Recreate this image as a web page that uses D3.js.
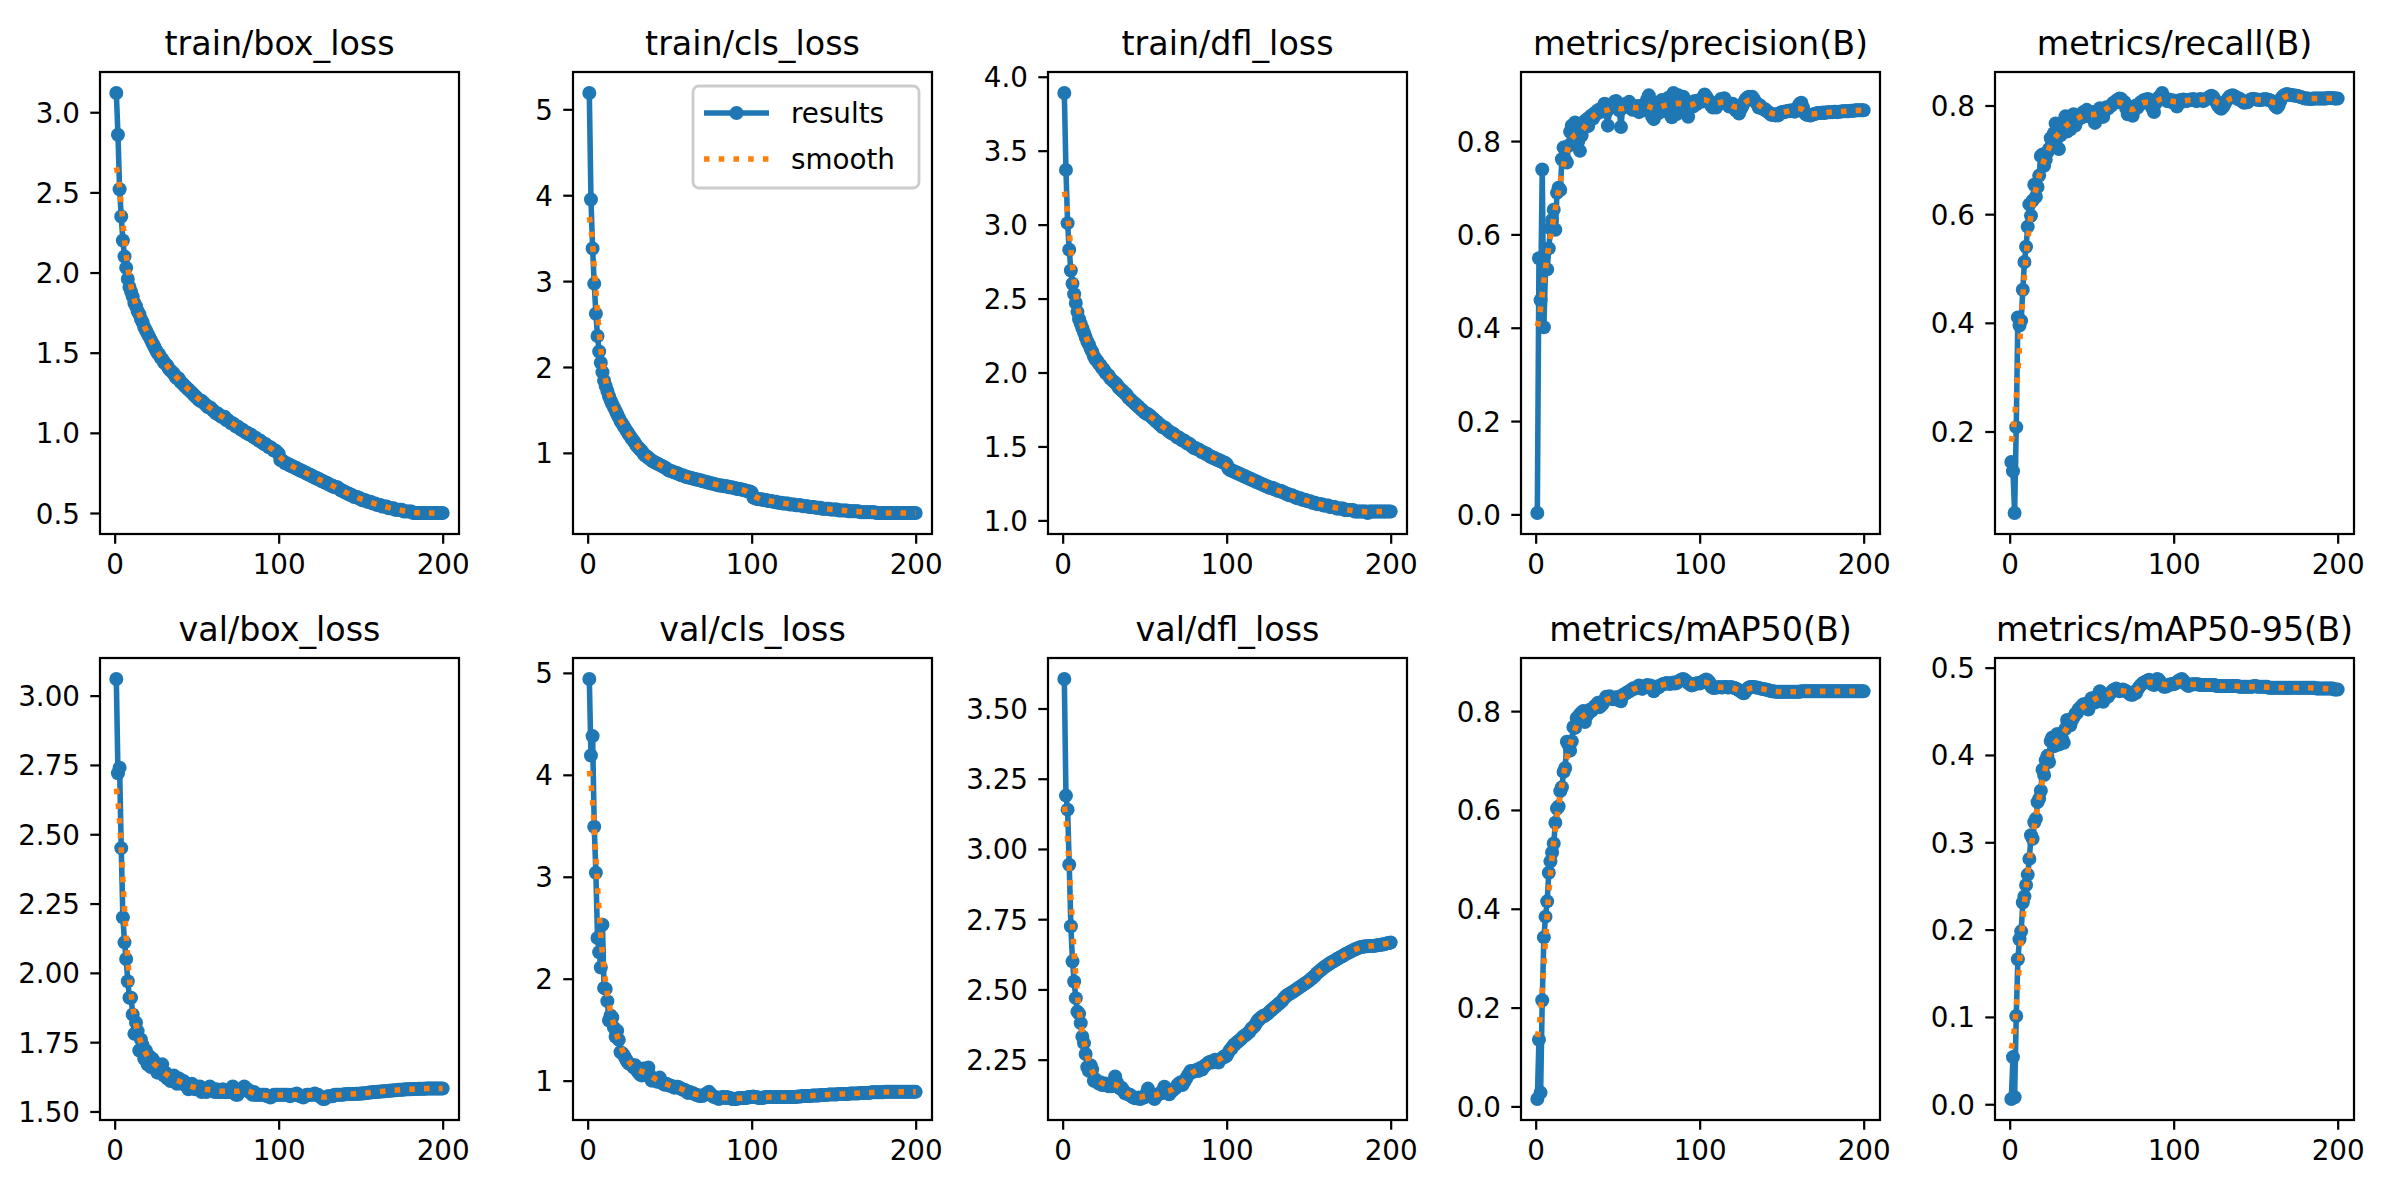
<!DOCTYPE html>
<html>
<head>
<meta charset="utf-8">
<script src="https://cdn.jsdelivr.net/npm/d3@7"></script>
<style>
  body { margin: 0; background: #fff; }
  svg { display: block; font-family: "DejaVu Sans", sans-serif; }
</style>
</head>
<body>
<div class="results-chart"></div>
<script>
const titles = ["train/box_loss", "train/cls_loss", "train/dfl_loss", "metrics/precision(B)", "metrics/recall(B)",
  "val/box_loss", "val/cls_loss", "val/dfl_loss", "metrics/mAP50(B)", "metrics/mAP50-95(B)"];

const epochs = d3.range(1, 201);

const trainBox = [
  3.12, 2.86, 2.52, 2.35, 2.20, 2.10, 2.03, 1.96, 1.91, 1.88,
  1.85, 1.81, 1.79, 1.76, 1.74, 1.71, 1.69, 1.66, 1.64, 1.62,
  1.60, 1.58, 1.56, 1.54, 1.52, 1.50, 1.49, 1.47, 1.46, 1.44,
  1.43, 1.42, 1.40, 1.39, 1.38, 1.37, 1.35, 1.34, 1.34, 1.32,
  1.31, 1.30, 1.29, 1.28, 1.27, 1.26, 1.25, 1.24, 1.23, 1.22,
  1.21, 1.20, 1.20, 1.19, 1.18, 1.17, 1.16, 1.16, 1.15, 1.14,
  1.13, 1.12, 1.12, 1.11, 1.10, 1.10, 1.10, 1.08, 1.08, 1.07,
  1.06, 1.06, 1.05, 1.04, 1.04, 1.03, 1.02, 1.02, 1.01, 1.00,
  1.00, 0.99, 0.99, 0.98, 0.97, 0.97, 0.96, 0.95, 0.95, 0.94,
  0.93, 0.93, 0.92, 0.91, 0.91, 0.90, 0.89, 0.89, 0.88, 0.87,
  0.83, 0.83, 0.82, 0.81, 0.81, 0.80, 0.80, 0.79, 0.79, 0.78,
  0.78, 0.77, 0.77, 0.76, 0.76, 0.75, 0.75, 0.74, 0.74, 0.73,
  0.73, 0.72, 0.72, 0.71, 0.71, 0.70, 0.70, 0.69, 0.69, 0.68,
  0.68, 0.67, 0.67, 0.66, 0.66, 0.66, 0.65, 0.64, 0.64, 0.63,
  0.63, 0.62, 0.62, 0.61, 0.61, 0.60, 0.60, 0.60, 0.59, 0.59,
  0.58, 0.58, 0.58, 0.57, 0.57, 0.57, 0.56, 0.56, 0.56, 0.55,
  0.55, 0.55, 0.54, 0.54, 0.54, 0.54, 0.53, 0.53, 0.53, 0.53,
  0.52, 0.52, 0.52, 0.52, 0.52, 0.51, 0.51, 0.51, 0.51, 0.51,
  0.51, 0.50, 0.50, 0.50, 0.50, 0.50, 0.50, 0.50, 0.50, 0.50,
  0.50, 0.50, 0.50, 0.50, 0.50, 0.50, 0.50, 0.50, 0.50, 0.50
];

const trainCls = [
  5.19, 3.95, 3.38, 2.97, 2.62, 2.36, 2.18, 2.05, 1.94, 1.84,
  1.78, 1.72, 1.66, 1.61, 1.57, 1.53, 1.49, 1.45, 1.41, 1.37,
  1.34, 1.31, 1.28, 1.25, 1.22, 1.19, 1.16, 1.14, 1.11, 1.08,
  1.06, 1.04, 1.02, 0.99, 0.97, 0.96, 0.94, 0.93, 0.91, 0.90,
  0.89, 0.88, 0.87, 0.86, 0.85, 0.84, 0.83, 0.82, 0.80, 0.79,
  0.79, 0.78, 0.77, 0.77, 0.76, 0.75, 0.74, 0.74, 0.73, 0.72,
  0.72, 0.71, 0.71, 0.70, 0.70, 0.69, 0.69, 0.68, 0.68, 0.67,
  0.67, 0.66, 0.66, 0.65, 0.65, 0.64, 0.64, 0.63, 0.63, 0.62,
  0.62, 0.62, 0.61, 0.61, 0.61, 0.60, 0.60, 0.60, 0.59, 0.59,
  0.58, 0.58, 0.58, 0.57, 0.57, 0.56, 0.56, 0.55, 0.55, 0.54,
  0.48, 0.47, 0.47, 0.46, 0.46, 0.46, 0.45, 0.45, 0.45, 0.44,
  0.44, 0.44, 0.43, 0.43, 0.43, 0.42, 0.42, 0.42, 0.41, 0.41,
  0.41, 0.41, 0.40, 0.40, 0.40, 0.40, 0.39, 0.39, 0.39, 0.39,
  0.38, 0.38, 0.38, 0.38, 0.37, 0.37, 0.37, 0.37, 0.36, 0.36,
  0.36, 0.36, 0.35, 0.35, 0.35, 0.35, 0.35, 0.34, 0.34, 0.34,
  0.34, 0.34, 0.33, 0.33, 0.33, 0.33, 0.33, 0.33, 0.32, 0.32,
  0.32, 0.32, 0.32, 0.32, 0.32, 0.31, 0.31, 0.31, 0.31, 0.31,
  0.31, 0.31, 0.31, 0.31, 0.31, 0.30, 0.30, 0.30, 0.30, 0.30,
  0.30, 0.30, 0.30, 0.30, 0.30, 0.30, 0.30, 0.30, 0.30, 0.30,
  0.30, 0.30, 0.30, 0.30, 0.30, 0.30, 0.30, 0.30, 0.30, 0.30
];

const trainDfl = [
  3.89, 3.37, 3.01, 2.83, 2.69, 2.60, 2.53, 2.47, 2.41, 2.36,
  2.33, 2.30, 2.27, 2.24, 2.21, 2.19, 2.16, 2.14, 2.11, 2.09,
  2.08, 2.06, 2.05, 2.03, 2.02, 2.00, 1.99, 1.98, 1.96, 1.95,
  1.94, 1.93, 1.92, 1.90, 1.89, 1.88, 1.87, 1.86, 1.85, 1.83,
  1.82, 1.81, 1.80, 1.79, 1.78, 1.77, 1.76, 1.75, 1.74, 1.73,
  1.72, 1.72, 1.71, 1.70, 1.69, 1.68, 1.67, 1.66, 1.65, 1.64,
  1.63, 1.63, 1.62, 1.61, 1.60, 1.59, 1.59, 1.58, 1.57, 1.56,
  1.56, 1.55, 1.54, 1.54, 1.53, 1.52, 1.52, 1.51, 1.50, 1.49,
  1.49, 1.48, 1.48, 1.47, 1.46, 1.46, 1.45, 1.45, 1.44, 1.43,
  1.43, 1.42, 1.42, 1.41, 1.41, 1.40, 1.40, 1.39, 1.39, 1.38,
  1.35, 1.34, 1.34, 1.33, 1.33, 1.32, 1.32, 1.31, 1.31, 1.30,
  1.30, 1.29, 1.29, 1.28, 1.28, 1.27, 1.27, 1.26, 1.26, 1.25,
  1.25, 1.24, 1.24, 1.23, 1.23, 1.22, 1.22, 1.22, 1.21, 1.21,
  1.20, 1.20, 1.20, 1.19, 1.19, 1.18, 1.18, 1.17, 1.17, 1.17,
  1.16, 1.16, 1.15, 1.15, 1.15, 1.14, 1.14, 1.14, 1.13, 1.13,
  1.13, 1.12, 1.12, 1.12, 1.11, 1.11, 1.11, 1.11, 1.10, 1.10,
  1.10, 1.10, 1.09, 1.09, 1.09, 1.09, 1.08, 1.08, 1.08, 1.08,
  1.08, 1.07, 1.07, 1.07, 1.07, 1.07, 1.07, 1.06, 1.06, 1.06,
  1.06, 1.06, 1.06, 1.06, 1.06, 1.05, 1.06, 1.06, 1.06, 1.06,
  1.06, 1.06, 1.06, 1.06, 1.06, 1.06, 1.06, 1.06, 1.06, 1.06
];

const precision = [
  0.003, 0.549, 0.459, 0.739, 0.401, 0.527, 0.525, 0.570, 0.613, 0.631,
  0.653, 0.610, 0.689, 0.700, 0.695, 0.761, 0.786, 0.760, 0.754, 0.790,
  0.820, 0.833, 0.812, 0.840, 0.826, 0.800, 0.779, 0.812, 0.830, 0.843,
  0.846, 0.832, 0.851, 0.855, 0.848, 0.860, 0.858, 0.866, 0.862, 0.870,
  0.868, 0.880, 0.862, 0.833, 0.870, 0.875, 0.879, 0.884, 0.886, 0.873,
  0.866, 0.830, 0.871, 0.878, 0.880, 0.876, 0.884, 0.872, 0.867, 0.872,
  0.868, 0.875, 0.862, 0.870, 0.876, 0.866, 0.880, 0.889, 0.898, 0.874,
  0.852, 0.847, 0.868, 0.882, 0.860, 0.878, 0.888, 0.870, 0.864, 0.884,
  0.893, 0.876, 0.851, 0.903, 0.889, 0.858, 0.898, 0.881, 0.871, 0.895,
  0.886, 0.868, 0.852, 0.879, 0.883, 0.874, 0.886, 0.879, 0.884, 0.888,
  0.884, 0.893, 0.900, 0.895, 0.889, 0.885, 0.876, 0.872, 0.880, 0.872,
  0.877, 0.885, 0.890, 0.887, 0.892, 0.885, 0.879, 0.874, 0.877, 0.880,
  0.874, 0.866, 0.870, 0.859, 0.868, 0.874, 0.882, 0.889, 0.893, 0.895,
  0.892, 0.895, 0.890, 0.884, 0.880, 0.872, 0.876, 0.870, 0.868, 0.868,
  0.864, 0.862, 0.858, 0.856, 0.857, 0.855, 0.858, 0.855, 0.860, 0.862,
  0.863, 0.862, 0.864, 0.865, 0.864, 0.866, 0.864, 0.863, 0.868, 0.874,
  0.880, 0.882, 0.872, 0.860, 0.857, 0.856, 0.855, 0.855, 0.857, 0.858,
  0.859, 0.860, 0.860, 0.860, 0.861, 0.860, 0.861, 0.862, 0.862, 0.862,
  0.862, 0.863, 0.863, 0.862, 0.863, 0.863, 0.864, 0.864, 0.864, 0.864,
  0.864, 0.865, 0.865, 0.865, 0.866, 0.866, 0.866, 0.866, 0.866, 0.866
];

const recall = [
  0.144, 0.127, 0.050, 0.208, 0.410, 0.395, 0.404, 0.461, 0.512, 0.540,
  0.577, 0.618, 0.597, 0.625, 0.654, 0.632, 0.650, 0.671, 0.707, 0.710,
  0.689, 0.700, 0.714, 0.720, 0.740, 0.731, 0.749, 0.767, 0.745, 0.720,
  0.745, 0.760, 0.763, 0.780, 0.752, 0.774, 0.756, 0.780, 0.784, 0.763,
  0.772, 0.775, 0.782, 0.778, 0.788, 0.785, 0.792, 0.780, 0.786, 0.782,
  0.788, 0.768, 0.778, 0.790, 0.795, 0.789, 0.779, 0.790, 0.797, 0.795,
  0.798, 0.800, 0.804, 0.806, 0.809, 0.806, 0.813, 0.812, 0.808, 0.806,
  0.795, 0.784, 0.790, 0.786, 0.781, 0.792, 0.800, 0.796, 0.802, 0.806,
  0.808, 0.810, 0.805, 0.812, 0.811, 0.806, 0.795, 0.788, 0.804, 0.812,
  0.815, 0.818, 0.823, 0.815, 0.812, 0.808, 0.811, 0.810, 0.806, 0.809,
  0.804, 0.798, 0.806, 0.810, 0.807, 0.811, 0.810, 0.808, 0.810, 0.811,
  0.810, 0.812, 0.809, 0.808, 0.810, 0.812, 0.811, 0.808, 0.810, 0.812,
  0.814, 0.816, 0.818, 0.816, 0.811, 0.806, 0.800, 0.796, 0.794, 0.797,
  0.802, 0.808, 0.812, 0.816, 0.818, 0.819, 0.817, 0.815, 0.812, 0.813,
  0.810, 0.807, 0.805, 0.806, 0.806, 0.809, 0.811, 0.812, 0.812, 0.811,
  0.811, 0.810, 0.810, 0.811, 0.811, 0.812, 0.811, 0.810, 0.809, 0.808,
  0.804, 0.799, 0.796, 0.800, 0.808, 0.815, 0.818, 0.820, 0.821, 0.820,
  0.820, 0.819, 0.819, 0.818, 0.818, 0.817, 0.816, 0.815, 0.814, 0.813,
  0.813, 0.813, 0.812, 0.812, 0.813, 0.813, 0.813, 0.813, 0.813, 0.813,
  0.813, 0.813, 0.813, 0.814, 0.814, 0.814, 0.814, 0.813, 0.813, 0.813
];

const valBox = [
  3.06, 2.72, 2.74, 2.45, 2.20, 2.11, 2.05, 1.97, 1.91, 1.91,
  1.85, 1.78, 1.82, 1.79, 1.72, 1.76, 1.74, 1.69, 1.72, 1.67,
  1.70, 1.66, 1.69, 1.68, 1.67, 1.64, 1.66, 1.65, 1.67, 1.63,
  1.64, 1.62, 1.63, 1.61, 1.62, 1.63, 1.61, 1.60, 1.62, 1.61,
  1.60, 1.61, 1.60, 1.59, 1.58, 1.59, 1.60, 1.59, 1.58, 1.59,
  1.58, 1.59, 1.57, 1.58, 1.58, 1.57, 1.58, 1.59, 1.58, 1.58,
  1.57, 1.58, 1.57, 1.57, 1.57, 1.58, 1.57, 1.57, 1.57, 1.57,
  1.58, 1.59, 1.57, 1.56, 1.56, 1.57, 1.58, 1.58, 1.59, 1.58,
  1.58, 1.57, 1.57, 1.56, 1.57, 1.56, 1.56, 1.56, 1.56, 1.56,
  1.56, 1.56, 1.555, 1.555, 1.55, 1.555, 1.56, 1.56, 1.56, 1.56,
  1.56, 1.56, 1.56, 1.56, 1.56, 1.56, 1.555, 1.56, 1.56, 1.56,
  1.565, 1.56, 1.555, 1.555, 1.55, 1.555, 1.56, 1.56, 1.56, 1.56,
  1.56, 1.565, 1.56, 1.56, 1.555, 1.55, 1.545, 1.545, 1.55, 1.555,
  1.555, 1.555, 1.555, 1.56, 1.56, 1.56, 1.56, 1.56, 1.56, 1.562,
  1.562, 1.563, 1.563, 1.563, 1.563, 1.563, 1.564, 1.564, 1.564, 1.565,
  1.565, 1.566, 1.566, 1.567, 1.568, 1.568, 1.569, 1.570, 1.570, 1.571,
  1.571, 1.572, 1.572, 1.573, 1.573, 1.574, 1.575, 1.575, 1.576, 1.576,
  1.577, 1.577, 1.578, 1.578, 1.578, 1.579, 1.579, 1.580, 1.580, 1.580,
  1.580, 1.581, 1.581, 1.581, 1.582, 1.582, 1.582, 1.582, 1.582, 1.583,
  1.583, 1.583, 1.583, 1.583, 1.583, 1.583, 1.583, 1.583, 1.583, 1.583
];

const valCls = [
  4.94, 4.19, 4.38, 3.49, 3.04, 2.40, 2.26, 2.11, 2.53, 1.91,
  1.90, 1.78, 1.59, 1.64, 1.62, 1.52, 1.43, 1.49, 1.40, 1.28,
  1.27, 1.25, 1.22, 1.19, 1.17, 1.16, 1.15, 1.13, 1.15, 1.10,
  1.08, 1.06, 1.05, 1.12, 1.10, 1.08, 1.13, 1.05, 1.00, 1.02,
  1.01, 0.99, 1.00, 1.03, 0.98, 0.97, 0.96, 0.97, 0.96, 0.95,
  0.95, 0.94, 0.93, 0.94, 0.94, 0.93, 0.92, 0.91, 0.91, 0.90,
  0.88, 0.89, 0.88, 0.88, 0.87, 0.86, 0.86, 0.85, 0.85, 0.85,
  0.86, 0.87, 0.88, 0.89, 0.87, 0.85, 0.84, 0.84, 0.83, 0.82,
  0.83, 0.84, 0.84, 0.83, 0.84, 0.83, 0.83, 0.82, 0.82, 0.82,
  0.82, 0.83, 0.83, 0.83, 0.83, 0.83, 0.83, 0.84, 0.84, 0.84,
  0.845, 0.84, 0.84, 0.83, 0.83, 0.83, 0.83, 0.84, 0.84, 0.84,
  0.84, 0.84, 0.84, 0.84, 0.84, 0.84, 0.84, 0.84, 0.84, 0.84,
  0.84, 0.84, 0.84, 0.84, 0.84, 0.84, 0.84, 0.845, 0.845, 0.845,
  0.85, 0.85, 0.85, 0.85, 0.85, 0.85, 0.855, 0.855, 0.855, 0.855,
  0.855, 0.86, 0.86, 0.86, 0.86, 0.86, 0.865, 0.865, 0.865, 0.865,
  0.865, 0.865, 0.87, 0.87, 0.87, 0.87, 0.87, 0.87, 0.87, 0.875,
  0.875, 0.875, 0.875, 0.875, 0.875, 0.88, 0.88, 0.88, 0.88, 0.88,
  0.88, 0.88, 0.885, 0.885, 0.885, 0.885, 0.885, 0.885, 0.885, 0.885,
  0.89, 0.89, 0.89, 0.89, 0.89, 0.89, 0.89, 0.89, 0.89, 0.89,
  0.89, 0.89, 0.89, 0.89, 0.89, 0.89, 0.89, 0.89, 0.89, 0.89
];

const valDfl = [
  3.605, 3.19, 3.14, 2.944, 2.725, 2.60, 2.528, 2.469, 2.421, 2.414,
  2.38, 2.332, 2.309, 2.27, 2.223, 2.21, 2.23, 2.215, 2.175, 2.18,
  2.17, 2.165, 2.17, 2.16, 2.16, 2.165, 2.16, 2.155, 2.16, 2.155,
  2.16, 2.19, 2.17, 2.155, 2.147, 2.15, 2.14, 2.13, 2.13, 2.127,
  2.125, 2.12, 2.115, 2.113, 2.113, 2.115, 2.11, 2.112, 2.115, 2.116,
  2.13, 2.147, 2.125, 2.12, 2.115, 2.11, 2.12, 2.125, 2.13, 2.13,
  2.14, 2.154, 2.14, 2.13, 2.127, 2.135, 2.14, 2.145, 2.15, 2.16,
  2.165, 2.17, 2.16, 2.17, 2.18, 2.19, 2.20, 2.21, 2.205, 2.21,
  2.21, 2.215, 2.21, 2.22, 2.215, 2.225, 2.23, 2.235, 2.24, 2.243,
  2.24, 2.245, 2.25, 2.245, 2.24, 2.25, 2.255, 2.26, 2.26, 2.264,
  2.275, 2.285, 2.29, 2.30, 2.305, 2.31, 2.315, 2.32, 2.325, 2.332,
  2.335, 2.34, 2.345, 2.35, 2.36, 2.365, 2.37, 2.38, 2.39, 2.394,
  2.40, 2.405, 2.405, 2.41, 2.414, 2.42, 2.425, 2.43, 2.435, 2.44,
  2.445, 2.45, 2.455, 2.46, 2.469, 2.475, 2.48, 2.483, 2.487, 2.49,
  2.494, 2.498, 2.502, 2.506, 2.51, 2.514, 2.518, 2.522, 2.526, 2.53,
  2.535, 2.54, 2.545, 2.55, 2.558, 2.562, 2.567, 2.572, 2.577, 2.581,
  2.585, 2.589, 2.593, 2.597, 2.60, 2.603, 2.607, 2.61, 2.614, 2.617,
  2.62, 2.624, 2.627, 2.63, 2.633, 2.636, 2.639, 2.642, 2.645, 2.647,
  2.649, 2.651, 2.652, 2.653, 2.654, 2.654, 2.655, 2.655, 2.655, 2.655,
  2.656, 2.657, 2.658, 2.659, 2.66, 2.661, 2.663, 2.664, 2.665, 2.667
];

const map50 = [
  0.015, 0.135, 0.028, 0.215, 0.342, 0.384, 0.415, 0.473, 0.496, 0.514,
  0.532, 0.574, 0.603, 0.607, 0.638, 0.646, 0.677, 0.685, 0.738, 0.732,
  0.720, 0.739, 0.768, 0.766, 0.786, 0.779, 0.794, 0.797, 0.800, 0.778,
  0.790, 0.795, 0.803, 0.800, 0.805, 0.810, 0.812, 0.817, 0.808, 0.812,
  0.815, 0.822, 0.829, 0.826, 0.830, 0.828, 0.824, 0.826, 0.828, 0.823,
  0.828, 0.820, 0.832, 0.834, 0.836, 0.838, 0.840, 0.842, 0.845, 0.847,
  0.846, 0.848, 0.852, 0.850, 0.845, 0.849, 0.851, 0.853, 0.850, 0.852,
  0.845, 0.840, 0.846, 0.850, 0.848, 0.851, 0.854, 0.855, 0.856, 0.857,
  0.856, 0.855, 0.857, 0.858, 0.856, 0.857, 0.860, 0.862, 0.864, 0.865,
  0.863, 0.860, 0.857, 0.855, 0.852, 0.853, 0.855, 0.856, 0.857, 0.856,
  0.858, 0.860, 0.862, 0.864, 0.862, 0.858, 0.850, 0.847, 0.847, 0.848,
  0.848, 0.849, 0.848, 0.848, 0.849, 0.849, 0.848, 0.848, 0.849, 0.848,
  0.847, 0.846, 0.844, 0.842, 0.840, 0.837, 0.836, 0.840, 0.845, 0.848,
  0.849, 0.849, 0.849, 0.848, 0.848, 0.847, 0.846, 0.845, 0.845, 0.844,
  0.843, 0.842, 0.841, 0.840, 0.840, 0.839, 0.839, 0.839, 0.839, 0.839,
  0.839, 0.839, 0.839, 0.839, 0.839, 0.839, 0.839, 0.839, 0.839, 0.839,
  0.839, 0.840, 0.840, 0.840, 0.840, 0.840, 0.840, 0.840, 0.840, 0.840,
  0.840, 0.840, 0.840, 0.840, 0.840, 0.840, 0.840, 0.840, 0.840, 0.840,
  0.840, 0.840, 0.840, 0.840, 0.840, 0.840, 0.840, 0.840, 0.840, 0.840,
  0.840, 0.840, 0.840, 0.840, 0.840, 0.840, 0.840, 0.840, 0.840, 0.840
];

const map5095 = [
  0.006, 0.054, 0.008, 0.101, 0.166, 0.189, 0.198, 0.231, 0.238, 0.251,
  0.263, 0.281, 0.308, 0.304, 0.323, 0.327, 0.346, 0.350, 0.359, 0.383,
  0.377, 0.394, 0.399, 0.392, 0.416, 0.420, 0.410, 0.418, 0.424, 0.412,
  0.421, 0.418, 0.414, 0.430, 0.440, 0.438, 0.434, 0.440, 0.443, 0.447,
  0.448, 0.452, 0.454, 0.456, 0.458, 0.455, 0.459, 0.452, 0.461, 0.465,
  0.463, 0.460, 0.466, 0.469, 0.473, 0.470, 0.461, 0.465, 0.468, 0.467,
  0.470, 0.472, 0.474, 0.475, 0.476, 0.474, 0.473, 0.474, 0.475, 0.474,
  0.473, 0.472, 0.470, 0.469, 0.469, 0.472, 0.471, 0.475, 0.478, 0.480,
  0.482, 0.483, 0.484, 0.485, 0.486, 0.484, 0.481, 0.480, 0.483, 0.487,
  0.486, 0.483, 0.480, 0.478, 0.478, 0.479, 0.480, 0.481, 0.481, 0.481,
  0.482, 0.483, 0.485, 0.486, 0.487, 0.485, 0.482, 0.480, 0.479, 0.480,
  0.481, 0.481, 0.481, 0.481, 0.481, 0.480, 0.480, 0.480, 0.480, 0.480,
  0.480, 0.480, 0.480, 0.480, 0.480, 0.479, 0.479, 0.479, 0.479, 0.479,
  0.479, 0.479, 0.479, 0.479, 0.479, 0.479, 0.479, 0.479, 0.479, 0.478,
  0.478, 0.478, 0.478, 0.478, 0.478, 0.478, 0.478, 0.478, 0.479, 0.479,
  0.478, 0.478, 0.478, 0.478, 0.478, 0.478, 0.478, 0.477, 0.477, 0.477,
  0.477, 0.477, 0.477, 0.477, 0.477, 0.477, 0.477, 0.477, 0.477, 0.477,
  0.477, 0.477, 0.477, 0.477, 0.477, 0.477, 0.477, 0.477, 0.477, 0.477,
  0.477, 0.477, 0.477, 0.477, 0.477, 0.477, 0.476, 0.476, 0.476, 0.476,
  0.476, 0.476, 0.476, 0.476, 0.476, 0.476, 0.476, 0.475, 0.475, 0.475
];

const series = [trainBox, trainCls, trainDfl, precision, recall, valBox, valCls, valDfl, map50, map5095];

const xTicks = [0, 100, 200];
const yTicks = [
  [0.5, 1.0, 1.5, 2.0, 2.5, 3.0],
  [1, 2, 3, 4, 5],
  [1.0, 1.5, 2.0, 2.5, 3.0, 3.5, 4.0],
  [0.0, 0.2, 0.4, 0.6, 0.8],
  [0.2, 0.4, 0.6, 0.8],
  [1.50, 1.75, 2.00, 2.25, 2.50, 2.75, 3.00],
  [1, 2, 3, 4, 5],
  [2.25, 2.50, 2.75, 3.00, 3.25, 3.50],
  [0.0, 0.2, 0.4, 0.6, 0.8],
  [0.0, 0.1, 0.2, 0.3, 0.4, 0.5]
];
const yFormats = [".1f", "d", ".1f", ".1f", ".1f", ".2f", "d", ".2f", ".1f", ".1f"];
const legendLabels = ["results", "smooth"];

// page is a 12x6 in figure at 200 dpi
const width = 2400, height = 1200;
const pt = 200 / 72;
const colLeft = [100, 573, 1048, 1521, 1995];
const rowTop = [72, 658];
const plotW = 359, plotH = 462;
const blue = "#1f77b4", orange = "#ff7f0e";

// same gaussian filter (sigma 3, reflect edges) as the training script
function smooth(y, sigma) {
  const r = Math.round(4 * sigma);
  const w = d3.range(-r, r + 1).map(k => Math.exp(-0.5 * k * k / (sigma * sigma)));
  const wsum = d3.sum(w);
  const n = y.length;
  return y.map((_, i) => {
    let s = 0;
    for (let k = -r; k <= r; k++) {
      let j = i + k;
      if (j < 0) j = -j - 1;
      if (j >= n) j = 2 * n - j - 1;
      s += w[k + r] * y[j];
    }
    return s / wsum;
  });
}

const svg = d3.select(".results-chart").append("svg")
  .attr("width", width)
  .attr("height", height)
  .attr("viewBox", [0, 0, width, height]);

svg.append("rect").attr("width", width).attr("height", height).attr("fill", "#fff");

series.forEach((values, i) => {
  const col = i % 5, row = Math.floor(i / 5);
  const g = svg.append("g")
    .attr("transform", `translate(${colLeft[col]},${rowTop[row]})`);

  const sm = smooth(values, 3);
  const pts = values.map((v, j) => [epochs[j], v]);
  const smPts = sm.map((v, j) => [epochs[j], v]);

  const [x0, x1] = d3.extent(epochs);
  const xm = (x1 - x0) * 0.05;
  const x = d3.scaleLinear().domain([x0 - xm, x1 + xm]).range([0, plotW]);

  const lo = Math.min(d3.min(values), d3.min(sm));
  const hi = Math.max(d3.max(values), d3.max(sm));
  const ym = (hi - lo) * 0.05;
  const y = d3.scaleLinear().domain([lo - ym, hi + ym]).range([plotH, 0]);

  const line = d3.line().x(d => x(d[0])).y(d => y(d[1]));

  const clipId = "clip" + i;
  g.append("clipPath").attr("id", clipId)
    .append("rect").attr("width", plotW).attr("height", plotH);

  const plot = g.append("g").attr("clip-path", `url(#${clipId})`);

  plot.append("path")
    .datum(pts)
    .attr("d", line)
    .attr("fill", "none")
    .attr("stroke", blue)
    .attr("stroke-width", 2 * pt)
    .attr("stroke-linejoin", "round");

  plot.selectAll("circle")
    .data(pts)
    .join("circle")
    .attr("cx", d => x(d[0]))
    .attr("cy", d => y(d[1]))
    .attr("r", 7)
    .attr("fill", blue);

  plot.append("path")
    .datum(smPts)
    .attr("d", line)
    .attr("fill", "none")
    .attr("stroke", orange)
    .attr("stroke-width", 2 * pt)
    .attr("stroke-dasharray", `${2 * pt} ${3.3 * pt}`);

  // axes
  const xAxis = g.append("g")
    .attr("transform", `translate(0,${plotH})`)
    .call(d3.axisBottom(x).tickValues(xTicks).tickFormat(d3.format("d"))
      .tickSize(3.5 * pt).tickPadding(3.5 * pt));

  const [d0, d1] = y.domain();
  const yAxis = g.append("g")
    .call(d3.axisLeft(y).tickValues(yTicks[i].filter(t => t >= d0 && t <= d1))
      .tickFormat(d3.format(yFormats[i]))
      .tickSize(3.5 * pt).tickPadding(3.5 * pt));

  [xAxis, yAxis].forEach(a => {
    a.select(".domain").remove();
    a.selectAll(".tick line").attr("stroke", "#000").attr("stroke-width", 0.8 * pt);
    a.selectAll(".tick text")
      .attr("fill", "#000")
      .attr("font-size", 10 * pt)
      .attr("font-family", "DejaVu Sans, sans-serif");
  });
  xAxis.selectAll(".tick text").attr("y", 40).attr("dy", null);
  yAxis.selectAll(".tick text").attr("x", -20).attr("dy", "0.36em");

  g.append("rect")
    .attr("width", plotW)
    .attr("height", plotH)
    .attr("fill", "none")
    .attr("stroke", "#000")
    .attr("stroke-width", 0.8 * pt);

  g.append("text")
    .attr("x", plotW / 2)
    .attr("y", -17)
    .attr("text-anchor", "middle")
    .attr("font-size", 12 * pt)
    .attr("fill", "#000")
    .text(titles[i]);

  if (i === 1) {
    const leg = g.append("g").attr("transform", "translate(120,14)");
    leg.append("rect")
      .attr("width", 226)
      .attr("height", 102)
      .attr("rx", 6)
      .attr("fill", "#fff")
      .attr("fill-opacity", 0.8)
      .attr("stroke", "#cccccc")
      .attr("stroke-width", pt);
    leg.append("line")
      .attr("x1", 11).attr("x2", 76).attr("y1", 27).attr("y2", 27)
      .attr("stroke", blue).attr("stroke-width", 2 * pt);
    leg.append("circle").attr("cx", 43.5).attr("cy", 27).attr("r", 7).attr("fill", blue);
    leg.append("line")
      .attr("x1", 11).attr("x2", 76).attr("y1", 73).attr("y2", 73)
      .attr("stroke", orange).attr("stroke-width", 2 * pt)
      .attr("stroke-dasharray", `${2 * pt} ${3.3 * pt}`);
    leg.selectAll("text.label")
      .data(legendLabels)
      .join("text")
      .attr("class", "label")
      .attr("x", 98)
      .attr("y", (d, k) => 37 + k * 46)
      .attr("font-size", 10 * pt)
      .attr("fill", "#000")
      .text(d => d);
  }
});
</script>
</body>
</html>
